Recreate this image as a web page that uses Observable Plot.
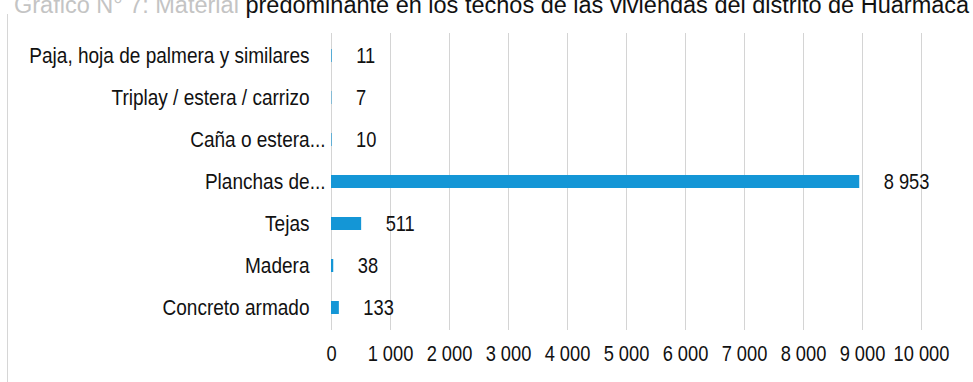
<!DOCTYPE html>
<html>
<head>
<meta charset="utf-8">
<script src="https://cdn.jsdelivr.net/npm/d3@7"></script>
<script src="https://cdn.jsdelivr.net/npm/@observablehq/plot@0.6"></script>
<style>
  html, body { margin: 0; padding: 0; background: #fff; overflow: hidden; }
  #wrap { position: relative; width: 973px; height: 382px; }
  #title { position: absolute; left: 14px; top: -6px; white-space: nowrap;
           font-family: "Liberation Sans", Arial, sans-serif; font-size: 23.5px; line-height: 23.5px; color: #111; }
  #title .faded { color: #c4c4c4; }
  #frame { position: absolute; left: 7px; top: 14px; width: 0; height: 368px; border-left: 1px solid #d6d6d6; }
  #chart { position: absolute; left: 0; top: 0; }
</style>
</head>
<body>
<div id="wrap">
  <div id="frame"></div>
  <div id="title"><span class="faded">Gráfico N° 7: Material </span>predominante en los techos de las viviendas del distrito de Huarmaca</div>
  <div id="chart"></div>
</div>
<script>
const categories = [
  "Paja, hoja de palmera y similares",
  "Triplay / estera / carrizo",
  "Caña o estera...",
  "Planchas de...",
  "Tejas",
  "Madera",
  "Concreto armado"
];
const values = [11, 7, 10, 8953, 511, 38, 133];
const xTicks = [0, 1000, 2000, 3000, 4000, 5000, 6000, 7000, 8000, 9000, 10000];

const data = categories.map((c, i) => ({category: c, value: values[i]}));
const fmt = v => d3.format(",")(v).replace(/,/g, " ");
const font = '"Liberation Sans Narrow", "Arial Narrow", "Liberation Sans", Arial, sans-serif';
const fs = 21.5;

const chart = Plot.plot({
  width: 973,
  height: 382,
  marginLeft: 331,
  marginRight: 52,
  marginTop: 33,
  marginBottom: 52,
  style: { fontFamily: font, fontSize: fs + "px", color: "#111", background: "transparent" },
  x: { domain: [0, 10000], label: null },
  y: { domain: categories, label: null, paddingInner: 0.68, paddingOuter: 0.34, axis: null },
  marks: [
    Plot.gridX(xTicks, { stroke: "#d4d4d4", strokeOpacity: 1, strokeWidth: 1 }),
    Plot.axisX({ ticks: xTicks, tickFormat: fmt, tickSize: 0, tickPadding: 15, fontSize: fs, label: null }),
    Plot.barX(data, { x: "value", y: "category", fill: "#1496d6" }),
    Plot.text(data.filter(d => !d.category.endsWith("...")), {
      x: 0, y: "category", text: "category", textAnchor: "end", dx: -22, fontSize: fs, fill: "#111"
    }),
    Plot.text(data.filter(d => d.category.endsWith("...")), {
      x: 0, y: "category", text: "category", textAnchor: "end", dx: -6, fontSize: fs, fill: "#111"
    }),
    Plot.text(data, {
      x: "value", y: "category", text: d => fmt(d.value), textAnchor: "start", dx: 24, fontSize: fs, fill: "#111"
    })
  ]
});
document.getElementById("chart").appendChild(chart);
// condense glyphs horizontally (narrow face not installed); scaling about each text's own anchor point
d3.select(chart).selectAll("text").each(function () {
  const isCategory = categories.includes(this.textContent);
  const k = isCategory ? 0.885 : 0.85;
  const t = this.getAttribute("transform") || "";
  this.setAttribute("transform", (t + ` scale(${k},1)`).trim());
});
</script>
</body>
</html>
